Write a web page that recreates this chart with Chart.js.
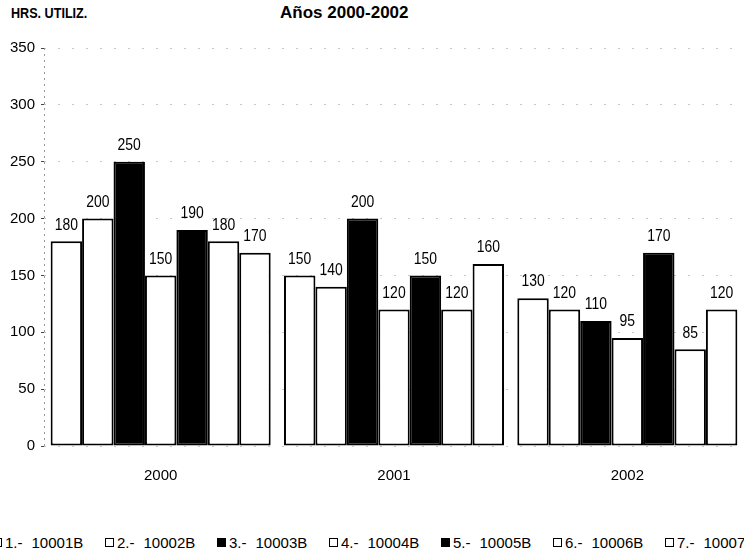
<!DOCTYPE html>
<html>
<head>
<meta charset="utf-8">
<script src="https://cdn.jsdelivr.net/npm/chart.js@4.4.1/dist/chart.umd.min.js"></script>
<style>
  html, body { margin: 0; padding: 0; background: #fff; }
  body { width: 744px; height: 555px; position: relative; overflow: hidden; font-family: "Liberation Sans", Arial, sans-serif; color: #000; }
  #ylab { position: absolute; left: 11px; top: 5px; font-size: 14px; font-weight: bold; transform: scaleX(0.9); transform-origin: left top; }
  #title { position: absolute; left: 280px; top: 3px; font-size: 17px; font-weight: bold; }
  #wrap { position: absolute; left: 0; top: 0; width: 744px; height: 486px; }
  #legend { position: absolute; left: -7px; top: 534px; display: flex; white-space: pre; font-size: 15px; }
  #legend .item { width: 112px; display: flex; align-items: center; flex: none; }
  #legend .box { width: 7px; height: 7px; border: 1.5px solid #000; margin-right: 3px; }
  #legend .code { margin-left: 9px; }
</style>
</head>
<body>
<div id="ylab">HRS. UTILIZ.</div>
<div id="title">Años 2000-2002</div>
<div id="wrap"><canvas id="c"></canvas></div>
<div id="legend"></div>
<script>
const years = ['2000', '2001', '2002'];
const seriesNames = ['1.-|10001B', '2.-|10002B', '3.-|10003B', '4.-|10004B', '5.-|10005B', '6.-|10006B', '7.-|10007B'];
const s1 = [180, 150, 130];
const s2 = [200, 140, 120];
const s3 = [250, 200, 110];
const s4 = [150, 120, 95];
const s5 = [190, 150, 170];
const s6 = [180, 120, 85];
const s7 = [170, 160, 120];
const yTicks = [0, 50, 100, 150, 200, 250, 300, 350];

const seriesData = [s1, s2, s3, s4, s5, s6, s7];
const solid = [false, false, true, false, true, false, false];
const FONT = '"Liberation Sans", Arial, sans-serif';

// legend row, wider than the page so both ends get cut
const legendEl = document.getElementById('legend');
seriesNames.forEach((n, i) => {
  const [num, code] = n.split('|');
  const it = document.createElement('div');
  it.className = 'item';
  it.innerHTML = `<span class="box" style="background:${solid[i] ? '#000' : '#fff'}"></span><span>${num}</span><span class="code">${code}</span>`;
  legendEl.appendChild(it);
});

// value above each bar, slightly condensed
const valueLabels = {
  id: 'valueLabels',
  afterDatasetsDraw(chart) {
    const ctx = chart.ctx;
    chart.data.datasets.forEach((ds, i) => {
      chart.getDatasetMeta(i).data.forEach((bar, j) => {
        ctx.save();
        ctx.translate(bar.x, bar.y - 8);
        ctx.scale(0.82, 1);
        ctx.font = '17px ' + FONT;
        ctx.fillStyle = '#000';
        ctx.textAlign = 'center';
        ctx.textBaseline = 'bottom';
        ctx.fillText(String(ds.data[j]), 0, 0);
        ctx.restore();
      });
    });
  }
};

// dotted left axis line
const dottedAxis = {
  id: 'dottedAxis',
  beforeDatasetsDraw(chart) {
    const { ctx, chartArea: a } = chart;
    ctx.save();
    ctx.strokeStyle = '#999';
    ctx.lineWidth = 1;
    ctx.setLineDash([2, 4]);
    ctx.beginPath();
    ctx.moveTo(a.left + 0.5, a.top);
    ctx.lineTo(a.left + 0.5, a.bottom);
    ctx.stroke();
    ctx.restore();
  }
};

new Chart(document.getElementById('c'), {
  type: 'bar',
  data: {
    labels: years,
    datasets: seriesData.map((d, i) => ({
      label: seriesNames[i].replace('|', ' '),
      data: d,
      backgroundColor: solid[i] ? '#000' : '#fff',
      borderColor: '#000',
      borderWidth: 2,
      borderSkipped: false,
      categoryPercentage: 0.943,
      barPercentage: 1
    }))
  },
  options: {
    responsive: true, maintainAspectRatio: false,
    animation: false,
    layout: { padding: { top: 48, right: 0, bottom: 0, left: 0 } },
    plugins: { legend: { display: false }, tooltip: { enabled: false } },
    scales: {
      x: {
        grid: { display: false },
        border: { display: false },
        ticks: { padding: 13, color: '#000', font: { size: 15, family: FONT } },
        afterFit: s => { s.height = 40; }
      },
      y: {
        min: 0, max: 350,
        afterBuildTicks: s => { s.ticks = yTicks.map(v => ({ value: v })); },
        grid: { color: 'rgba(0,0,0,0.22)', tickColor: '#444', tickLength: 3, tickWidth: 1 },
        border: { display: false, dash: [2, 12] },
        ticks: { padding: 6, color: '#000', font: { size: 15, family: FONT } },
        afterFit: s => { s.width = 44; }
      }
    }
  },
  plugins: [dottedAxis, valueLabels]
});
</script>
</body>
</html>
